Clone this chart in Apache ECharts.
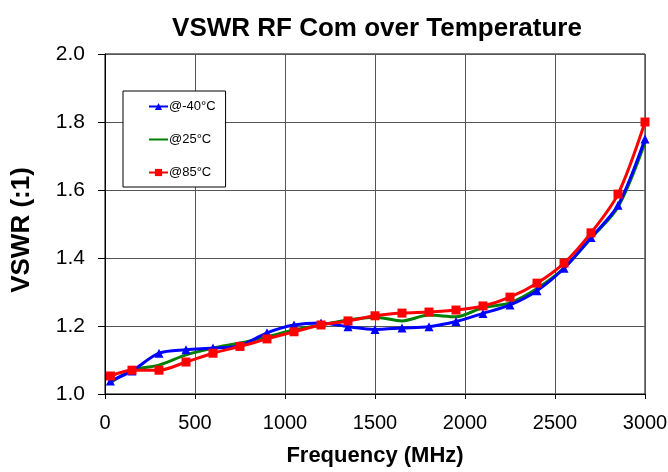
<!DOCTYPE html>
<html><head><meta charset="utf-8">
<script src="https://cdn.jsdelivr.net/npm/echarts@6/dist/echarts.min.js"></script>
<style>html,body{margin:0;padding:0;background:#fff}#c{width:668px;height:472px}</style>
</head><body><div id="c"></div>
<script>
const freqs = [30,150,300,450,600,750,900,1050,1200,1350,1500,1650,1800,1950,2100,2250,2400,2550,2700,2850,3000];
const vswrM40 = [1.038,1.068,1.12,1.13,1.135,1.142,1.18,1.203,1.209,1.198,1.19,1.194,1.198,1.213,1.237,1.262,1.304,1.37,1.46,1.555,1.75];
const vswr25  = [1.033,1.07,1.085,1.115,1.135,1.15,1.168,1.188,1.203,1.218,1.226,1.215,1.232,1.227,1.254,1.268,1.31,1.37,1.458,1.55,1.74];
const vswr85  = [1.053,1.07,1.07,1.094,1.12,1.14,1.162,1.183,1.203,1.215,1.23,1.238,1.241,1.247,1.259,1.285,1.326,1.385,1.474,1.588,1.8];
const seriesNames = ['@-40°C','@25°C','@85°C'];
const pair = (ys) => freqs.map((f,i)=>[f,ys[i]]);
const chart = echarts.init(document.getElementById('c'));
const font = 'Liberation Sans, Arial, sans-serif';
chart.setOption({
  animation:false,
  title:{text:'VSWR RF Com over Temperature',left:372,top:11,textAlign:'center',
    textStyle:{fontFamily:font,fontSize:26,fontWeight:'bold',color:'#000'}},
  grid:{left:105,right:23,top:54,bottom:78,show:true,borderColor:'#000',borderWidth:1,outerBoundsMode:'none',containLabel:false},
  legend:{orient:'vertical',left:123,top:91,width:117,height:94,padding:[9,10,8,25],
    itemGap:20,itemWidth:19,itemHeight:9,backgroundColor:'#fff',borderColor:'#000',borderWidth:1,
    textStyle:{fontFamily:font,fontSize:13,color:'#000',padding:[0,0,0,-4]},
    data:[{name:seriesNames[0]},{name:seriesNames[1],itemStyle:{opacity:0}},{name:seriesNames[2]}]},
  xAxis:{type:'value',min:0,max:3000,interval:500,
    name:'Frequency (MHz)',nameLocation:'middle',nameGap:51,
    nameTextStyle:{fontFamily:font,fontSize:22,fontWeight:'bold',color:'#000'},
    axisLine:{lineStyle:{color:'#000'}},axisTick:{show:true,length:5,lineStyle:{color:'#000'}},
    axisLabel:{fontFamily:font,fontSize:20,color:'#000',margin:19,formatter:v=>String(v)},
    splitLine:{show:true,lineStyle:{color:'#555',width:1}}},
  yAxis:{type:'value',min:1,max:2,interval:0.2,
    name:'VSWR (:1)',nameLocation:'middle',nameGap:70,
    nameTextStyle:{fontFamily:font,fontSize:26,fontWeight:'bold',color:'#000',padding:[0,12,0,0]},
    axisLine:{show:true,lineStyle:{color:'#000'}},axisTick:{show:true,length:7,lineStyle:{color:'#000'}},
    axisLabel:{fontFamily:font,fontSize:21,color:'#000',margin:20,formatter:v=>v.toFixed(1)},
    splitLine:{show:true,lineStyle:{color:'#555',width:1}}},
  series:[
    {name:seriesNames[0],type:'line',data:pair(vswrM40),smooth:0.3,symbol:'triangle',symbolSize:9,
      lineStyle:{color:'#0000ff',width:3},itemStyle:{color:'#0000ff'},z:3},
    {name:seriesNames[1],type:'line',data:pair(vswr25),smooth:0.3,symbol:'none',showSymbol:false,
      lineStyle:{color:'#008000',width:3},itemStyle:{color:'#008000'},z:2},
    {name:seriesNames[2],type:'line',data:pair(vswr85),smooth:0.3,symbol:'rect',symbolSize:9,
      lineStyle:{color:'#ff0000',width:3},itemStyle:{color:'#ff0000'},z:4}
  ]
});
</script></body></html>
